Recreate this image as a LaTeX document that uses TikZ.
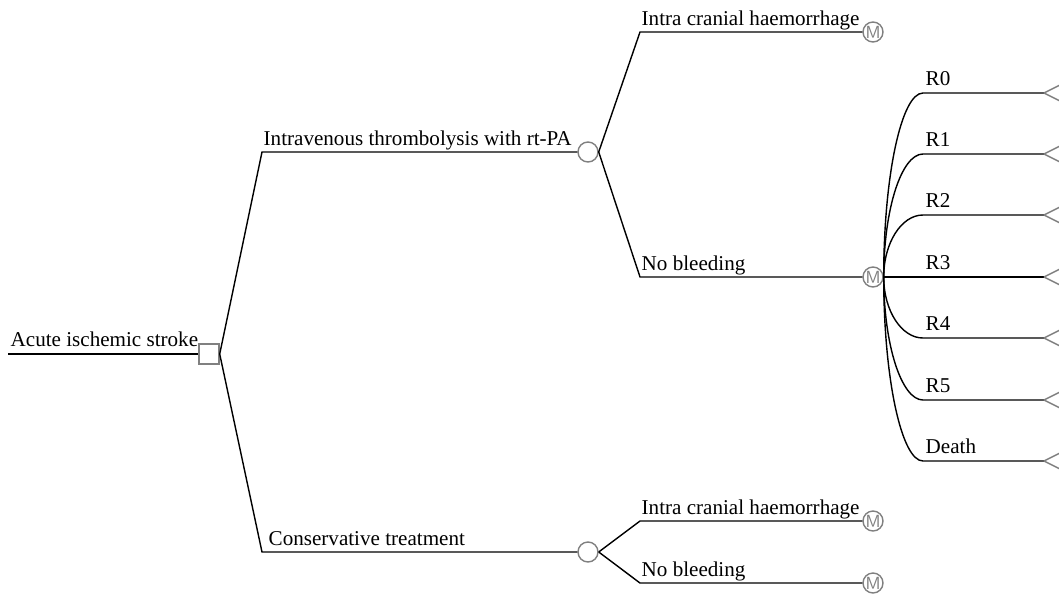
\documentclass[tikz,border=0pt]{standalone}
\usepackage{fontspec}
\setmainfont{Liberation Serif}
\usetikzlibrary{positioning}

\begin{document}
\begin{tikzpicture}[x=0.025cm,y=-0.025cm,line width=1pt,
                    dec node/.style={rectangle,draw=gray,minimum size=0.5cm,inner sep=0pt},
                    chance node/.style={circle,draw=gray,minimum size=0.5cm,inner sep=0pt},
                    markov node/.style={circle,draw=gray,minimum size=0.5cm,inner sep=0pt,
                                        text=gray,font=\sffamily\fontsize{12.5}{12.5}\selectfont},
                    lbl/.style={anchor=base west,inner sep=0pt,font=\fontsize{15}{17}\selectfont}]

  \useasboundingbox (0,0) rectangle (1059,595);

  \node[dec node] (D) at (209,354) {};
  \node[chance node] (C1) at (588,152) {};
  \node[chance node] (C2) at (588,552) {};
  \node[markov node] (M1) at (873,32) {M};
  \node[markov node] (M2) at (873,277) {M};
  \node[markov node] (M3) at (873,521) {M};
  \node[markov node] (M4) at (873,583) {M};

  \coordinate (S) at (8,354);
  \coordinate (K1) at (262,152);
  \coordinate (K2) at (262,552);
  \coordinate (K3) at (640,32);
  \coordinate (K4) at (640,277);
  \coordinate (K5) at (640,521);
  \coordinate (K6) at (640,583);

  \node[lbl] (stroke) at (10,346) {Acute ischemic stroke};
  \node[lbl] (ivt) at (263,145) {Intravenous thrombolysis with rt-PA};
  \node[lbl] (cons) at (268,545) {Conservative treatment};
  \node[lbl] (ich1) at (641,25) {Intra cranial haemorrhage};
  \node[lbl] (nb1) at (641,270) {No bleeding};
  \node[lbl] (ich2) at (641,514) {Intra cranial haemorrhage};
  \node[lbl] (nb2) at (641,576) {No bleeding};

  \draw (S) -- (D);
  \draw (D.east) -- (K1) -- (C1);
  \draw (D.east) -- (K2) -- (C2);
  \draw (C1.east) -- (K3) -- (M1);
  \draw (C1.east) -- (K4) -- (M2);
  \draw (C2.east) -- (K5) -- (M3);
  \draw (C2.east) -- (K6) -- (M4);

  \foreach \y/\name [count=\i] in {93/R0,154/R1,215/R2,277/R3,338/R4,400/R5,461/Death}{
    \coordinate (T\i) at (1044,\y);
    \node[lbl] (R\i) at (925,\y-8) {\name};
    \draw (M2.east) .. controls +(0,{0.552*(\y-277)}) and +(-21.5,0) .. (923,\y) -- (T\i);
    \draw[gray] (T\i) -- +(24,-12) (T\i) -- +(24,12);
  }
\end{tikzpicture}
\end{document}
